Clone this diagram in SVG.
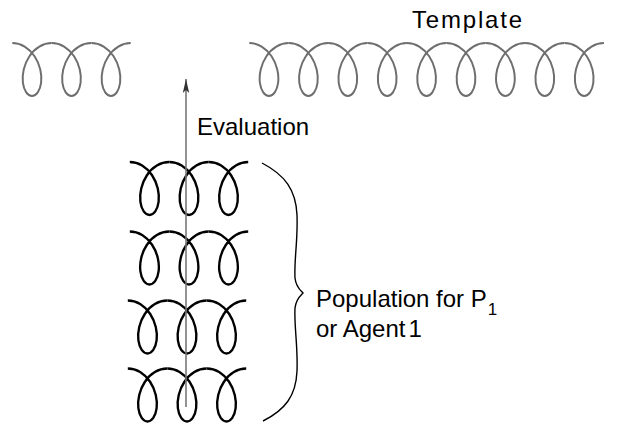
<svg xmlns="http://www.w3.org/2000/svg" xmlns:xlink="http://www.w3.org/1999/xlink" width="617" height="428" viewBox="0 0 617 428">
<style>
.grey{fill:none;stroke:#6e6e6e;stroke-width:2}
.black{fill:none;stroke:#000;stroke-width:2.4}
.lbl{font-family:"Liberation Sans",Arial,sans-serif;font-size:24px;fill:#000;stroke:none}
.brace{fill:none;stroke:#000;stroke-width:1.4}
.arrow{stroke:#777;stroke-width:1.6;fill:none}
</style>
<defs>
<path id="coil" d="M-20,-27 C-15.68,-27 -11.36,-25.74 -7.47,-23.38 C-3.58,-21.02 -0.12,-17.58 2.6,-13.5 C5.32,-9.42 7.29,-4.71 8.4,0 C9.51,4.71 9.76,9.42 9.27,13.5 C8.78,17.58 7.54,21.02 5.87,23.38 C4.2,25.74 2.1,27 0,27 C-2.1,27 -4.2,25.74 -5.87,23.38 C-7.54,21.02 -8.78,17.58 -9.27,13.5 C-9.76,9.42 -9.51,4.71 -8.4,0 C-7.29,-4.71 -5.32,-9.42 -2.6,-13.5 C-0.12,-17.58 3.58,-21.02 7.47,-23.38 C11.36,-25.74 15.68,-27 20,-27"/>
<marker id="ah" markerWidth="14" markerHeight="8" refX="14" refY="4" orient="auto" markerUnits="userSpaceOnUse" viewBox="0 0 14 8">
<path d="M14,4 L0,0.8 L3,4 L0,7.2 Z" fill="#333"/>
</marker>
</defs>

<g id="spring-left" class="grey">
<use xlink:href="#coil" transform="translate(32,69.5) scale(0.985,0.98)"/>
<use xlink:href="#coil" transform="translate(71.5,69.5) scale(0.985,0.98)"/>
<use xlink:href="#coil" transform="translate(111,69.5) scale(0.985,0.98)"/>
</g>

<g id="template">
<g class="grey">
<use xlink:href="#coil" transform="translate(269,69.5) scale(0.985,0.98)"/>
<use xlink:href="#coil" transform="translate(308.4,69.5) scale(0.985,0.98)"/>
<use xlink:href="#coil" transform="translate(347.8,69.5) scale(0.985,0.98)"/>
<use xlink:href="#coil" transform="translate(387.2,69.5) scale(0.985,0.98)"/>
<use xlink:href="#coil" transform="translate(426.6,69.5) scale(0.985,0.98)"/>
<use xlink:href="#coil" transform="translate(466,69.5) scale(0.985,0.98)"/>
<use xlink:href="#coil" transform="translate(505.4,69.5) scale(0.985,0.98)"/>
<use xlink:href="#coil" transform="translate(544.8,69.5) scale(0.985,0.98)"/>
<use xlink:href="#coil" transform="translate(584.2,69.5) scale(0.985,0.98)"/>
</g>
<text class="lbl" x="412" y="28" textLength="110">Template</text>
</g>

<g id="pop1" class="black">
<use xlink:href="#coil" transform="translate(149.5,188.5) scale(0.985,0.98)"/>
<use xlink:href="#coil" transform="translate(189,188.5) scale(0.985,0.98)"/>
<use xlink:href="#coil" transform="translate(228.5,188.5) scale(0.985,0.98)"/>
</g>
<g id="pop2" class="black">
<use xlink:href="#coil" transform="translate(149.5,258) scale(0.985,0.98)"/>
<use xlink:href="#coil" transform="translate(189,258) scale(0.985,0.98)"/>
<use xlink:href="#coil" transform="translate(228.5,258) scale(0.985,0.98)"/>
</g>
<g id="pop3" class="black">
<use xlink:href="#coil" transform="translate(147.5,327) scale(0.985,0.98)"/>
<use xlink:href="#coil" transform="translate(187,327) scale(0.985,0.98)"/>
<use xlink:href="#coil" transform="translate(226.5,327) scale(0.985,0.98)"/>
</g>
<g id="pop4" class="black">
<use xlink:href="#coil" transform="translate(147.5,395) scale(0.985,0.98)"/>
<use xlink:href="#coil" transform="translate(187,395) scale(0.985,0.98)"/>
<use xlink:href="#coil" transform="translate(226.5,395) scale(0.985,0.98)"/>
</g>

<g id="population-label">
<path class="brace" d="M262,163 C285,175 296,190 297,215 C298,240 294,260 295,278 C296,287 300,290 303,293 C300,296 296,299 295,308 C294,326 298,346 297,371 C296,396 285,410 263,421"/>
<text class="lbl" x="316" y="307">Population for P<tspan font-size="17" dx="1" dy="8">1</tspan></text>
<text class="lbl" x="316" y="337">or Agent<tspan dx="3">1</tspan></text>
</g>

<g id="connectors">
<line class="arrow" x1="186" y1="407" x2="186" y2="79" marker-end="url(#ah)"/>
<text class="lbl" x="197" y="135">Evaluation</text>
</g>
</svg>
